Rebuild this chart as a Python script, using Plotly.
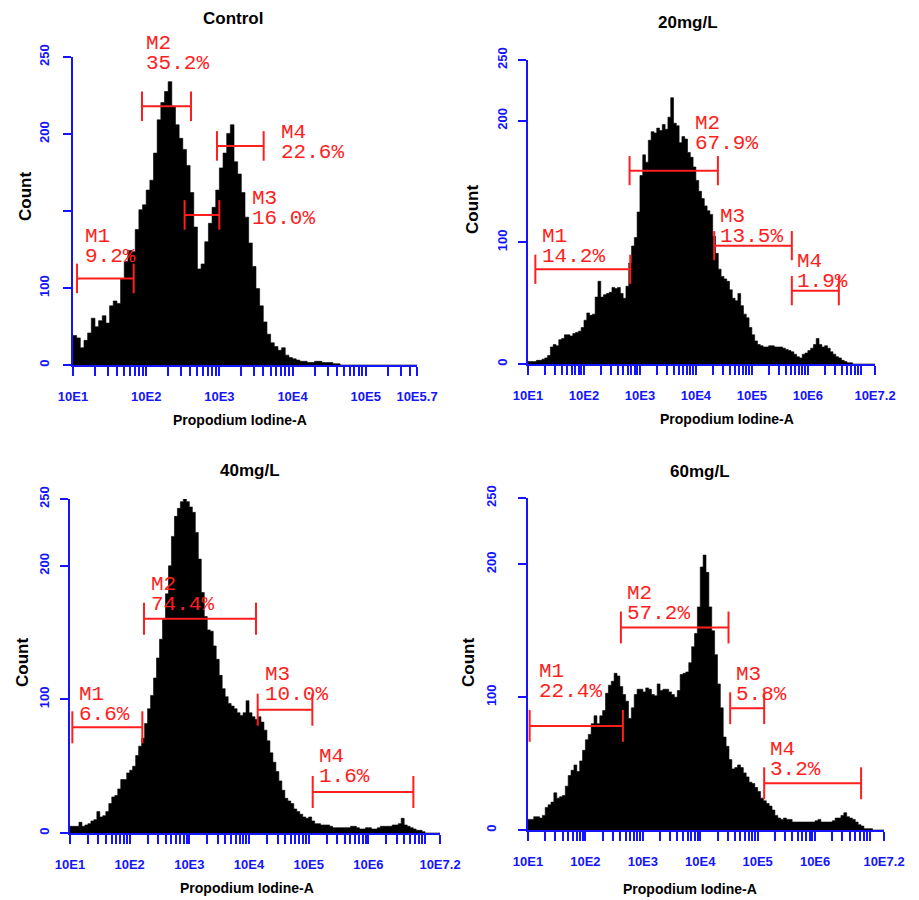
import numpy as np
import plotly.graph_objects as go

# ---------------- data ----------------
panel_titles = ["Control", "20mg/L", "40mg/L", "60mg/L"]
x_log_max = [5.7, 7.2, 7.2, 7.2]
x_tick_log = [[1, 2, 3, 4, 5, 5.7],
              [1, 2, 3, 4, 5, 6, 7.2],
              [1, 2, 3, 4, 5, 6, 7.2],
              [1, 2, 3, 4, 5, 6, 7.2]]
x_tick_text = [["10E1", "10E2", "10E3", "10E4", "10E5", "10E5.7"],
               ["10E1", "10E2", "10E3", "10E4", "10E5", "10E6", "10E7.2"],
               ["10E1", "10E2", "10E3", "10E4", "10E5", "10E6", "10E7.2"],
               ["10E1", "10E2", "10E3", "10E4", "10E5", "10E6", "10E7.2"]]
y_tick_vals = [[0, 62.5, 125, 187.5, 250], [0, 100, 200, 250], [0, 100, 200, 250], [0, 100, 200, 250]]
y_tick_text = [["0", "100", "", "200", "250"], ["0", "100", "200", "250"],
               ["0", "100", "200", "250"], ["0", "100", "200", "250"]]

channel_width_log = 0.05  # decades per channel, channels start at 10E1

counts_control = [24, 22, 14, 20, 26, 38, 31, 36, 40, 34,
                  48, 52, 50, 70, 84, 93, 92, 110, 126, 130,
                  142, 150, 172, 199, 213, 222, 230, 210, 195, 184,
                  175, 162, 140, 112, 78, 82, 100, 115, 128, 142,
                  160, 172, 188, 195, 165, 155, 140, 120, 99, 80,
                  62, 48, 35, 25, 18, 15, 12, 14, 8, 6,
                  5, 4, 3, 3, 2, 2, 3, 3, 2, 2,
                  2, 1, 1, 0, 0, 0, 0, 0, 0, 0,
                  0, 0, 0, 0, 0, 0, 0, 0, 0, 0,
                  0, 0, 0, 0]
counts_20 = [2, 2, 2, 3, 3, 4, 5, 7, 14, 16,
             15, 20, 21, 24, 24, 23, 25, 26, 27, 30,
             36, 42, 40, 41, 55, 68, 55, 57, 58, 59,
             63, 62, 63, 58, 54, 64, 83, 97, 104, 125,
             155, 172, 166, 184, 191, 190, 194, 192, 197, 193,
             203, 219, 198, 196, 182, 187, 185, 174, 170, 162,
             151, 142, 136, 130, 126, 123, 105, 91, 78, 72,
             70, 68, 61, 54, 52, 58, 48, 41, 38, 30,
             24, 19, 16, 15, 14, 14, 15, 15, 14, 14,
             14, 13, 12, 11, 10, 8, 6, 5, 8, 9,
             11, 13, 16, 21, 16, 14, 15, 13, 10, 8,
             6, 5, 3, 2, 1, 1, 0, 0, 0, 0,
             0, 0, 0, 0]
counts_40 = [5, 5, 5, 8, 5, 6, 7, 9, 10, 16,
             12, 13, 16, 22, 27, 28, 33, 40, 40, 45,
             47, 50, 58, 65, 71, 82, 93, 103, 116, 131,
             145, 160, 179, 200, 222, 237, 243, 248, 250, 248,
             244, 240, 225, 205, 180, 162, 152, 151, 140, 130,
             118, 108, 102, 97, 95, 93, 90, 88, 90, 99,
             90, 87, 85, 87, 83, 77, 69, 60, 53, 46,
             39, 32, 26, 24, 22, 18, 16, 14, 12, 11,
             12, 9, 7, 7, 6, 6, 6, 5, 4, 4,
             4, 4, 4, 4, 5, 5, 4, 3, 3, 4,
             4, 3, 3, 4, 5, 5, 5, 5, 6, 6,
             7, 11, 6, 5, 4, 3, 2, 2, 1, 0,
             0, 0, 0, 0]
counts_60 = [8, 8, 10, 10, 9, 11, 17, 19, 21, 28,
             24, 25, 26, 33, 41, 45, 49, 44, 52, 60,
             68, 72, 80, 86, 80, 86, 90, 103, 109, 112,
             118, 116, 108, 102, 97, 84, 92, 102, 106, 106,
             104, 107, 106, 102, 101, 110, 105, 106, 106, 104,
             102, 100, 105, 117, 118, 119, 126, 138, 148, 168,
             198, 207, 194, 168, 150, 132, 110, 92, 70, 63,
             53, 46, 47, 49, 47, 43, 40, 36, 35, 32,
             29, 24, 22, 20, 18, 15, 11, 9, 8, 9,
             8, 8, 6, 6, 6, 6, 6, 6, 6, 6,
             7, 8, 6, 6, 6, 6, 7, 9, 9, 11,
             13, 10, 9, 8, 6, 4, 3, 1, 1, 1,
             0, 0, 0, 0]
panel_counts = [counts_control, counts_20, counts_40, counts_60]

gate_names = ["M1", "M2", "M3", "M4"]
gate_pct = [["9.2%", "35.2%", "16.0%", "22.6%"],
            ["14.2%", "67.9%", "13.5%", "1.9%"],
            ["6.6%", "74.4%", "10.0%", "1.6%"],
            ["22.4%", "57.2%", "5.8%", "3.2%"]]
# gate limits (log10 of intensity) and drawing level (count)
gate_lo_log = [[1.055, 1.943, 2.525, 2.967],
               [1.131, 2.815, 4.327, 5.714],
               [1.039, 2.240, 4.145, 5.067],
               [1.029, 2.618, 4.521, 5.113]]
gate_hi_log = [[1.829, 2.612, 2.999, 3.605],
               [2.827, 4.393, 5.714, 6.554],
               [2.212, 4.117, 5.061, 6.754],
               [2.653, 4.492, 5.113, 6.801]]
gate_level = [[70.3, 210, 121.8, 177.8],
              [77.9, 159, 97.3, 60.3],
              [79.1, 160.4, 92.3, 30.7],
              [78.4, 152.5, 91.7, 35.2]]

# ---------------- layout / style ----------------
BLUE = "#1414ff"
RED = "#ff1e1e"
SANS = "Liberation Sans, Arial, sans-serif"
MONO = "Liberation Mono, DejaVu Sans Mono, monospace"
CAP = 12  # gate end-cap half height (count units)
Y_MAX = 250

OFF = 8            # page body margin in the browser
W, H = 911, 892    # figure size so that it fills the 919x900 window
# plot areas in window pixels: (left, right, top, bottom)
boxes = [(73, 417, 57, 365), (528, 875, 60, 364), (70, 440, 499, 833), (528, 884, 498, 830)]
# gate label anchors (log10 x, count of text top)
label_anchor = [[(1.137, 111), (1.975, 268), (3.413, 142), (3.81, 196)],
                [(1.22, 111.6), (3.946, 204.8), (4.393, 128), (5.774, 91)],
                [(1.112, 110), (2.324, 192), (4.229, 124.8), (5.134, 63.6)],
                [(1.157, 125.6), (2.694, 184.7), (4.596, 123.6), (5.188, 67)]]
title_pos = [(233, 18), (688, 23), (250, 470), (700, 472)]
xtitle_pos = [(240, 420), (727, 419), (247, 888), (690, 889)]
count_pos = [(25, 197), (472, 210), (22, 663), (468, 663)]
ylab_standoff = [9, 6, 6, 17]


def px(x):
    return (x - OFF) / W


def py(y):
    return 1 - (y - OFF) / H


fig = go.Figure()
annotations = []
layout = dict(width=W, height=H, margin=dict(l=0, r=0, t=0, b=0, pad=0, autoexpand=False),
              paper_bgcolor="white", plot_bgcolor="white", showlegend=False)

for k in range(4):
    n = "" if k == 0 else str(k + 1)
    xa, ya = "x" + n, "y" + n
    L, R, T, B = boxes[k]
    px_per_count = (B - T) / Y_MAX
    counts = panel_counts[k]
    edges = 10 ** (1 + channel_width_log * np.arange(len(counts) + 1))
    fig.add_trace(go.Scatter(x=edges, y=list(counts) + [0], xaxis=xa, yaxis=ya,
                             mode="lines", line=dict(color="black", width=0.6, shape="hv"),
                             fill="tozeroy", fillcolor="black", hoverinfo="skip"))
    gx, gy = [], []
    for lo, hi, lev in zip(gate_lo_log[k], gate_hi_log[k], gate_level[k]):
        a, b = 10 ** lo, 10 ** hi
        gx += [a, a, None, a, b, None, b, b, None]
        gy += [lev - CAP, lev + CAP, None, lev, lev, None, lev - CAP, lev + CAP, None]
    fig.add_trace(go.Scatter(x=gx, y=gy, xaxis=xa, yaxis=ya, mode="lines",
                             line=dict(color=RED, width=2), hoverinfo="skip", cliponaxis=False))
    for j in range(4):
        lx, ly = label_anchor[k][j]
        extra = 0
        if ly > Y_MAX:  # keep the anchor inside the axis range, shift the text up instead
            extra = (ly - Y_MAX) * px_per_count
            ly = Y_MAX
        for txt, sh in ((gate_names[j], 5), (gate_pct[k][j], -15)):
            annotations.append(dict(xref=xa, yref=ya, x=lx, y=ly, text=txt, showarrow=False,
                                    xanchor="left", yanchor="top", yshift=sh + extra,
                                    font=dict(family=MONO, size=21, color=RED)))
    maxlog = x_log_max[k]
    minor_vals = [m * 10 ** d for d in range(1, 8) for m in range(2, 10)
                  if np.log10(m * 10 ** d) < maxlog]
    layout["xaxis" + n] = dict(
        type="log", range=[1, maxlog], domain=[px(L), px(R)], anchor=ya, automargin=False,
        showline=True, linecolor=BLUE, linewidth=2, showgrid=False, zeroline=False,
        ticks="outside", ticklen=9, tickwidth=2, tickcolor=BLUE,
        tickvals=[10 ** v for v in x_tick_log[k]], ticktext=x_tick_text[k],
        tickfont=dict(family=SANS, size=13, color=BLUE, weight="bold"),
        ticklabelstandoff=9,
        minor=dict(tickvals=minor_vals, ticks="outside", ticklen=9, tickwidth=2,
                   tickcolor=BLUE, showgrid=False))
    layout["yaxis" + n] = dict(
        range=[0, Y_MAX], domain=[py(B), py(T)], anchor=xa, automargin=False,
        showline=True, linecolor=BLUE, linewidth=2, showgrid=False, zeroline=False,
        ticks="outside", ticklen=8, tickwidth=2, tickcolor=BLUE,
        tickvals=y_tick_vals[k], ticktext=y_tick_text[k], tickangle=-90,
        tickfont=dict(family=SANS, size=13, color=BLUE, weight="bold"),
        ticklabelstandoff=ylab_standoff[k])
    tx, ty = title_pos[k]
    annotations.append(dict(xref="paper", yref="paper", x=px(tx), y=py(ty), text=panel_titles[k],
                            showarrow=False, xanchor="center", yanchor="middle",
                            font=dict(family=SANS, size=17, color="black", weight="bold")))
    tx, ty = xtitle_pos[k]
    annotations.append(dict(xref="paper", yref="paper", x=px(tx), y=py(ty), text="Propodium Iodine-A",
                            showarrow=False, xanchor="center", yanchor="middle",
                            font=dict(family=SANS, size=14, color="black", weight="bold")))
    tx, ty = count_pos[k]
    annotations.append(dict(xref="paper", yref="paper", x=px(tx), y=py(ty), text="Count",
                            showarrow=False, xanchor="center", yanchor="middle", textangle=-90,
                            font=dict(family=SANS, size=17, color="black", weight="bold")))

layout["annotations"] = annotations
fig.update_layout(**layout)
fig.write_html("out.html", config={"responsive": False})
